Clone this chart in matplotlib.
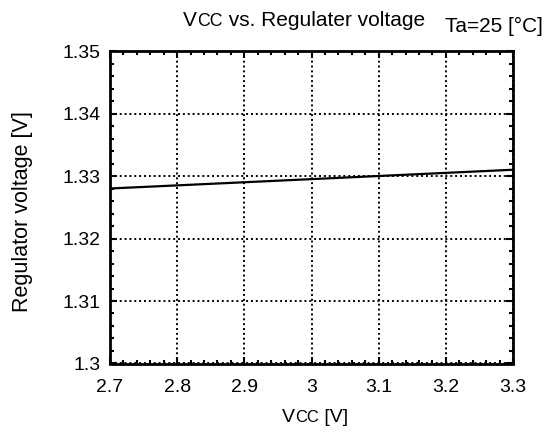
import matplotlib
matplotlib.use("Agg")
import matplotlib.pyplot as plt
from matplotlib.ticker import MultipleLocator
from matplotlib.offsetbox import TextArea, HPacker, AnchoredOffsetbox

plt.rcParams['font.family'] = ['Liberation Sans', 'DejaVu Sans']

# data
vcc = [2.7, 3.3]
vreg = [1.328, 1.331]

x_ticks = [2.7, 2.8, 2.9, 3.0, 3.1, 3.2, 3.3]
x_labels = ["2.7", "2.8", "2.9", "3", "3.1", "3.2", "3.3"]
y_ticks = [1.30, 1.31, 1.32, 1.33, 1.34, 1.35]
y_labels = ["1.3", "1.31", "1.32", "1.33", "1.34", "1.35"]

fig = plt.figure(figsize=(5.5, 4.34), dpi=100)
ax = fig.add_axes([110 / 550, 1 - 363.5 / 434, 403 / 550, 312.5 / 434])

ax.plot(vcc, vreg, color='black', linewidth=1.6, zorder=3)

ax.set_xlim(2.7, 3.3)
ax.set_ylim(1.30, 1.35)
ax.set_xticks(x_ticks)
ax.set_xticklabels(x_labels)
ax.set_yticks(y_ticks)
ax.set_yticklabels(y_labels)
ax.xaxis.set_minor_locator(MultipleLocator(0.02))
ax.yaxis.set_minor_locator(MultipleLocator(0.002))
ax.tick_params(which='both', direction='in', top=True, right=True,
               labelsize=14, width=1.5)
ax.tick_params(axis='x', which='both', pad=11)
ax.tick_params(axis='y', which='both', pad=7)
ax.tick_params(which='major', length=5)
ax.tick_params(which='minor', length=3)
ax.grid(True, which='major', color='black', linestyle=(0, (1, 1.5)), linewidth=1.4)
for s in ax.spines.values():
    s.set_linewidth(2)

fig.text(23 / 550, 1 - 212 / 434, "Regulator voltage [V]", fontsize=15.5,
         rotation=90, ha='center', va='center')


def small_caps_box(parts, size):
    # parts: list of (text, scale)
    areas = [TextArea(t, textprops=dict(fontsize=size * sc, color='black'))
             for t, sc in parts]
    return HPacker(children=areas, align='baseline', pad=0, sep=0)


def place(box, x, y, loc):
    ab = AnchoredOffsetbox(loc=loc, child=box, pad=0, borderpad=0,
                           frameon=False, bbox_to_anchor=(x, y),
                           bbox_transform=fig.transFigure)
    fig.add_artist(ab)


title = small_caps_box([("V", 1.0), ("CC", 0.85), (" vs. Regulater voltage", 1.0)], 15)
place(title, 304 / 550, 1 - 21 / 434, 'center')

fig.text(543 / 550, 1 - 26 / 434, "Ta=25 [°C]", fontsize=15, ha='right', va='center')

xlab = small_caps_box([("V", 1.0), ("CC", 0.85), (" [V]", 1.0)], 14)
place(xlab, 315 / 550, 1 - 418 / 434, 'center')

fig.savefig("out.png", dpi=100)
